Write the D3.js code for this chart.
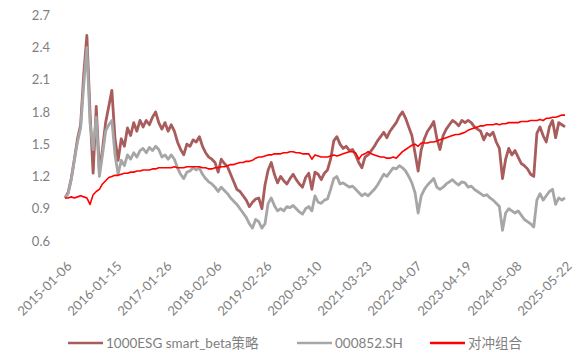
<!DOCTYPE html>
<html><head><meta charset="utf-8">
<script src="https://cdn.jsdelivr.net/npm/d3@7"></script>
<style>
html,body{margin:0;padding:0;background:#fff;}
svg text{font-family:Lato,"Noto Sans CJK SC",sans-serif;fill:#7f7f7f;}
</style></head>
<body><svg id="c" width="576" height="357"></svg>
<script>
const tickLabels = ["2015-01-06","2016-01-15","2017-01-26","2018-02-06","2019-02-26","2020-03-10","2021-03-23","2022-04-07","2023-04-19","2024-05-08","2025-05-22"];
const yTicks = [0.6,0.9,1.2,1.5,1.8,2.1,2.4,2.7];
const seriesNames = ["1000ESG smart_beta策略","000852.SH","对冲组合"];

const strategy = [
1.00,1.05,1.18,1.36,1.55,1.68,2.15,2.51,1.80,1.23,1.85,1.25,1.45,1.70,1.85,2.00,1.55,1.35,1.55,1.48,1.65,1.58,1.70,1.62,1.72,1.66,1.72,1.68,1.75,1.80,1.70,1.64,1.70,
1.62,1.68,1.62,1.52,1.45,1.40,1.50,1.48,1.54,1.52,1.57,1.48,1.42,1.38,1.36,1.33,1.24,1.36,1.32,1.29,1.22,1.15,1.08,1.06,1.02,0.98,0.92,0.96,0.99,1.00,0.90,
1.12,1.26,1.33,1.22,1.14,1.20,1.16,1.13,1.18,1.22,1.17,1.13,1.10,1.19,1.23,1.08,1.24,1.22,1.17,1.23,1.26,1.36,1.53,1.57,1.50,1.46,1.48,1.44,1.45,1.40,1.33,1.28,1.38,
1.40,1.44,1.48,1.53,1.57,1.61,1.56,1.62,1.66,1.70,1.76,1.80,1.74,1.66,1.58,1.42,1.25,1.45,1.55,1.62,1.66,1.71,1.55,1.45,1.58,1.64,1.68,1.72,1.70,1.67,1.72,1.70,
1.72,1.70,1.66,1.64,1.62,1.54,1.60,1.58,1.61,1.52,1.46,1.18,1.36,1.46,1.40,1.44,1.38,1.32,1.30,1.27,1.22,1.20,1.60,1.66,1.58,1.52,1.66,1.72,1.56,1.70,1.68,1.66];

const index852 = [
1.00,1.04,1.17,1.35,1.52,1.65,2.05,2.40,1.70,1.45,1.75,1.20,1.40,1.62,1.68,1.72,1.40,1.22,1.35,1.30,1.40,1.36,1.42,1.38,1.44,1.46,1.42,1.47,1.44,1.48,1.45,1.38,1.40,
1.36,1.40,1.36,1.28,1.22,1.18,1.24,1.25,1.28,1.26,1.28,1.22,1.18,1.15,1.13,1.10,1.06,1.10,1.07,1.04,1.00,0.97,0.94,0.90,0.86,0.82,0.76,0.72,0.80,0.78,0.72,
0.76,0.95,1.00,0.93,0.88,0.90,0.88,0.92,0.91,0.93,0.90,0.87,0.85,0.90,0.92,0.88,1.02,0.96,0.95,0.98,0.99,1.08,1.18,1.20,1.13,1.14,1.12,1.10,1.11,1.08,1.05,1.02,1.04,
1.02,1.05,1.08,1.12,1.17,1.22,1.20,1.24,1.28,1.27,1.30,1.28,1.25,1.20,1.14,1.05,0.86,1.02,1.08,1.12,1.15,1.18,1.10,1.08,1.10,1.13,1.15,1.17,1.14,1.12,1.15,1.14,
1.10,1.11,1.08,1.06,1.04,1.02,1.03,1.00,0.98,0.95,0.92,0.70,0.86,0.90,0.88,0.86,0.88,0.84,0.80,0.78,0.76,0.73,0.98,1.04,0.98,1.02,1.06,1.08,0.94,1.00,0.98,1.00];

const hedge = [
1.00,1.00,1.01,1.00,1.01,1.02,1.01,1.00,0.94,1.03,1.06,1.08,1.13,1.16,1.19,1.20,1.21,1.21,1.22,1.23,1.23,1.24,1.24,1.25,1.25,1.26,1.26,1.26,1.27,1.27,1.28,1.28,1.28,
1.28,1.28,1.29,1.28,1.28,1.28,1.29,1.29,1.29,1.29,1.29,1.28,1.28,1.27,1.27,1.28,1.28,1.29,1.29,1.30,1.31,1.31,1.32,1.33,1.33,1.34,1.34,1.35,1.37,1.38,1.38,
1.39,1.40,1.40,1.41,1.41,1.41,1.42,1.42,1.43,1.43,1.42,1.42,1.41,1.41,1.41,1.36,1.40,1.39,1.38,1.38,1.38,1.39,1.40,1.39,1.40,1.41,1.42,1.43,1.43,1.42,1.36,1.40,1.41,
1.43,1.41,1.40,1.39,1.38,1.38,1.37,1.37,1.38,1.37,1.40,1.43,1.45,1.47,1.49,1.50,1.48,1.51,1.51,1.51,1.52,1.52,1.53,1.54,1.55,1.56,1.57,1.58,1.59,1.59,1.60,1.61,
1.63,1.64,1.65,1.66,1.67,1.67,1.68,1.68,1.68,1.69,1.68,1.69,1.69,1.70,1.70,1.70,1.70,1.71,1.71,1.71,1.72,1.72,1.72,1.73,1.72,1.74,1.74,1.75,1.75,1.76,1.77,1.77];

const colors = ["#a85c5c","#a6a6a6","#ff0000"];
const widths = [2.8,2.8,1.6];

const svg = d3.select("#c");
const N = strategy.length;
const x = d3.scaleLinear().domain([0, N-1]).range([65, 565]);
const y = d3.scaleLinear().domain([0.6, 2.7]).range([241, 15]);
const tickStep = (N-1)/(tickLabels.length-1);

// Y axis
const yAxis = d3.axisLeft(y).tickValues(yTicks).tickFormat(d3.format(".1f")).tickSize(0).tickPadding(0);
const gy = svg.append("g").attr("transform","translate(50,0)").call(yAxis);
gy.select(".domain").remove();
gy.selectAll("text").style("font-size","13px").style("fill","#7f7f7f").style("font-family","Lato");

// X axis
const xAxis = d3.axisBottom(x).tickValues(tickLabels.map((d,i)=>i*tickStep))
  .tickFormat((d,i)=>tickLabels[i]).tickSize(0).tickPadding(0);
const gx = svg.append("g").attr("transform","translate(0,264)").call(xAxis);
gx.select(".domain").remove();
gx.selectAll("text").style("font-size","13px").style("fill","#7f7f7f").style("font-family","Lato")
  .attr("text-anchor","end").attr("dy","0").attr("y",0).attr("x",0)
  .attr("transform","translate(7,3) rotate(-45)");

// Lines
const line = d3.line().x((d,i)=>x(i)).y(d=>y(d));
[strategy, index852, hedge].forEach((s,k)=>{
  svg.append("path").datum(s).attr("d",line).attr("fill","none")
    .attr("stroke",colors[k]).attr("stroke-width",widths[k]).attr("stroke-linejoin","round");
});

// Legend
const legX = [68, 297, 430];
const lg = svg.append("g");
seriesNames.forEach((n,k)=>{
  lg.append("line").attr("x1",legX[k]).attr("x2",legX[k]+35).attr("y1",343).attr("y2",343)
    .attr("stroke",colors[k]).attr("stroke-width",2.5);
  lg.append("text").attr("x",legX[k]+38).attr("y",343).attr("dy","0.35em")
    .style("font-size","13.5px").text(n);
});
</script></body></html>
